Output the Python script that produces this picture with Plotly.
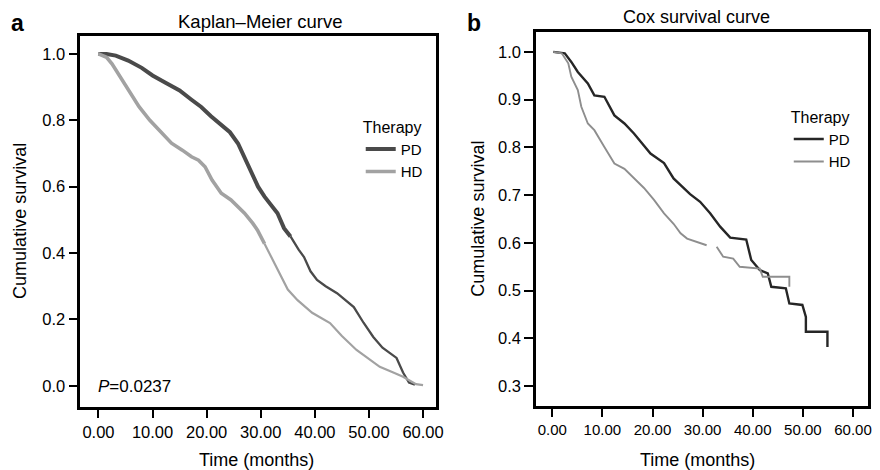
import plotly.graph_objects as go

# ---------------- data ----------------
# Panel a: Kaplan-Meier curve
km_pd_time = [0, 1.5, 3.2, 5.5, 8.0, 10.0, 12.4, 15.0, 17.2, 19.0, 20.8, 22.5, 24.3, 25.8,
              27.0, 28.2, 29.5, 30.7, 32.0, 33.1, 34.3, 35.5, 37.0, 38.0, 39.2, 40.4, 42.0,
              44.1, 45.5, 47.2, 49.0, 50.8, 52.5, 55.1, 56.3, 57.4, 58.5]
km_pd_surv = [1.0, 1.0, 0.995, 0.98, 0.958, 0.935, 0.913, 0.89, 0.862, 0.84, 0.812, 0.79, 0.764, 0.73,
              0.69, 0.645, 0.60, 0.57, 0.545, 0.52, 0.475, 0.45, 0.41, 0.388, 0.345, 0.319, 0.30,
              0.279, 0.26, 0.237, 0.19, 0.147, 0.115, 0.084, 0.04, 0.01, 0.003]

km_hd_time = [0, 1.5, 2.5, 4.4, 6.0, 7.5, 9.5, 11.1, 13.5, 15.5, 17.2, 18.5, 19.7, 21.0, 22.7,
              24.5, 27.0, 28.5, 29.4, 30.7, 33.1, 35.0, 36.8, 39.5, 42.8, 45.0, 47.7, 50.0,
              52.0, 54.5, 56.3, 58.7, 60.0]
km_hd_surv = [1.0, 0.99, 0.97, 0.922, 0.88, 0.841, 0.80, 0.771, 0.731, 0.71, 0.69, 0.68, 0.66, 0.62, 0.58,
              0.56, 0.52, 0.49, 0.469, 0.428, 0.349, 0.29, 0.258, 0.22, 0.189, 0.15, 0.108, 0.08,
              0.057, 0.04, 0.027, 0.005, 0.002]

# Panel b: Cox survival curve
cox_pd_time = [0.2, 2.5, 3.8, 5.1, 7.1, 8.4, 10.4, 12.4, 14.4, 16.3, 19.6, 22.3, 24.2, 27.5,
               29.5, 31.5, 33.5, 35.5, 38.7, 39.7, 41.4, 43.0, 43.7, 46.6, 47.3, 49.9, 50.6,
               50.6, 54.9, 54.9]
cox_pd_surv = [1.0, 0.997, 0.979, 0.958, 0.934, 0.909, 0.906, 0.867, 0.85, 0.829, 0.787, 0.767, 0.735, 0.702,
               0.686, 0.662, 0.634, 0.611, 0.607, 0.564, 0.543, 0.536, 0.508, 0.505, 0.473, 0.47, 0.445,
               0.414, 0.414, 0.382]

cox_hd_time = [0.2, 1.9, 3.2, 3.8, 5.1, 5.8, 7.1, 8.4, 10.4, 12.4, 14.4, 16.3, 18.3, 20.3, 22.3,
               24.2, 25.6, 26.9, 28.9, 30.8, None, 32.8, 34.1, 36.1, 37.4, 41.4, 42.0, 47.3, 47.3]
cox_hd_surv = [1.0, 0.997, 0.976, 0.948, 0.92, 0.885, 0.85, 0.836, 0.801, 0.766, 0.755, 0.735, 0.715, 0.69, 0.662,
               0.64, 0.62, 0.609, 0.602, 0.595, None, 0.592, 0.571, 0.567, 0.55, 0.546, 0.529, 0.529, 0.508]

x_ticks = [0, 10, 20, 30, 40, 50, 60]
km_y_ticks = [0.0, 0.2, 0.4, 0.6, 0.8, 1.0]
cox_y_ticks = [0.3, 0.4, 0.5, 0.6, 0.7, 0.8, 0.9, 1.0]

# ---------------- figure ----------------
# The page body has an 8px default margin, so the figure is drawn 8px in from
# the top-left of the 880x470 window; positions below are given in window
# pixels and converted to paper coordinates.
OFF = 8
W, H = 880 - OFF, 470 - OFF
FONT = "Liberation Sans, Arial, Helvetica, sans-serif"


def px(x):
    return (x - OFF) / W


def py(y):
    return 1 - (y - OFF) / H


PD_A, HD_A = "#4a4a4a", "#a2a2a2"
PD_B, HD_B = "#262626", "#8e8e8e"

fig = go.Figure()

# thick (censor-dense) part and thinner tail for panel a
pd_i = max(i for i, t in enumerate(km_pd_time) if t <= 35.5)
hd_i = max(i for i, t in enumerate(km_hd_time) if t <= 31)

fig.add_trace(go.Scatter(x=km_pd_time[:pd_i + 1], y=km_pd_surv[:pd_i + 1], mode="lines",
                         line=dict(color=PD_A, width=4), name="PD", legend="legend",
                         xaxis="x", yaxis="y"))
fig.add_trace(go.Scatter(x=km_pd_time[pd_i:], y=km_pd_surv[pd_i:], mode="lines",
                         line=dict(color=PD_A, width=2.3), showlegend=False,
                         xaxis="x", yaxis="y"))
fig.add_trace(go.Scatter(x=km_hd_time[:hd_i + 1], y=km_hd_surv[:hd_i + 1], mode="lines",
                         line=dict(color=HD_A, width=3.6), name="HD", legend="legend",
                         xaxis="x", yaxis="y"))
fig.add_trace(go.Scatter(x=km_hd_time[hd_i:], y=km_hd_surv[hd_i:], mode="lines",
                         line=dict(color=HD_A, width=2.2), showlegend=False,
                         xaxis="x", yaxis="y"))

fig.add_trace(go.Scatter(x=cox_pd_time, y=cox_pd_surv, mode="lines",
                         line=dict(color=PD_B, width=2.4), name="PD", legend="legend2",
                         xaxis="x2", yaxis="y2"))
fig.add_trace(go.Scatter(x=cox_hd_time, y=cox_hd_surv, mode="lines", connectgaps=False,
                         line=dict(color=HD_B, width=1.9), name="HD", legend="legend2",
                         xaxis="x2", yaxis="y2"))

axis_common = dict(showline=True, linecolor="black", linewidth=2.5, mirror=True,
                   ticks="outside", ticklen=9, tickwidth=2, tickcolor="black",
                   showgrid=False, zeroline=False)

fig.update_layout(
    width=W, height=H,
    margin=dict(l=0, r=0, t=0, b=0),
    paper_bgcolor="white", plot_bgcolor="white",
    font=dict(family=FONT, color="black"),
    xaxis=dict(domain=[px(81), px(440)], range=[-3.35, 62.4], tickvals=x_ticks,
               tickformat=".2f", tickfont=dict(size=16.5), anchor="y", **axis_common),
    yaxis=dict(domain=[py(406.7), py(36)], range=[-0.063, 1.054], tickvals=km_y_ticks,
               tickformat=".1f", tickfont=dict(size=16.5), anchor="x", **axis_common),
    xaxis2=dict(domain=[px(541), px(876)], range=[-3.22, 63.0], tickvals=x_ticks,
                tickformat=".2f", tickfont=dict(size=15), anchor="y2", **axis_common),
    yaxis2=dict(domain=[py(405.7), py(32.3)], range=[0.259, 1.041], tickvals=cox_y_ticks,
                tickformat=".1f", tickfont=dict(size=16.5), anchor="x2", **axis_common),
    legend=dict(x=px(364), y=py(112), xanchor="left", yanchor="top",
                bgcolor="rgba(0,0,0,0)", title=dict(text="Therapy", font=dict(size=16)),
                font=dict(size=15), itemwidth=30, tracegroupgap=0),
    legend2=dict(x=px(796), y=py(102), xanchor="left", yanchor="top",
                 bgcolor="rgba(0,0,0,0)", title=dict(text="Therapy", font=dict(size=16)),
                 font=dict(size=15), itemwidth=30, tracegroupgap=0),
    showlegend=True,
)


def ann(text, x, y, size, **kw):
    opts = dict(xanchor="center", yanchor="middle")
    opts.update(kw)
    fig.add_annotation(text=text, x=px(x), y=py(y), xref="paper", yref="paper",
                       showarrow=False, font=dict(size=size, family=FONT, color="black"), **opts)


ann("<b>a</b>", 18, 8, 23, yanchor="top")
ann("<b>b</b>", 478, 8, 23, yanchor="top")
ann("Kaplan–Meier curve", 263, 22, 18.5)
ann("Cox survival curve", 703, 17, 18)
ann("Cumulative survival", 20, 221, 18, textangle=-90)
ann("Cumulative survival", 482, 219, 18, textangle=-90)
ann("Time (months)", 259, 460, 18)
ann("Time (months)", 704, 460, 18)
ann("<i>P</i>=0.0237", 97, 386, 17, xanchor="left")

fig.write_html("out.html")
